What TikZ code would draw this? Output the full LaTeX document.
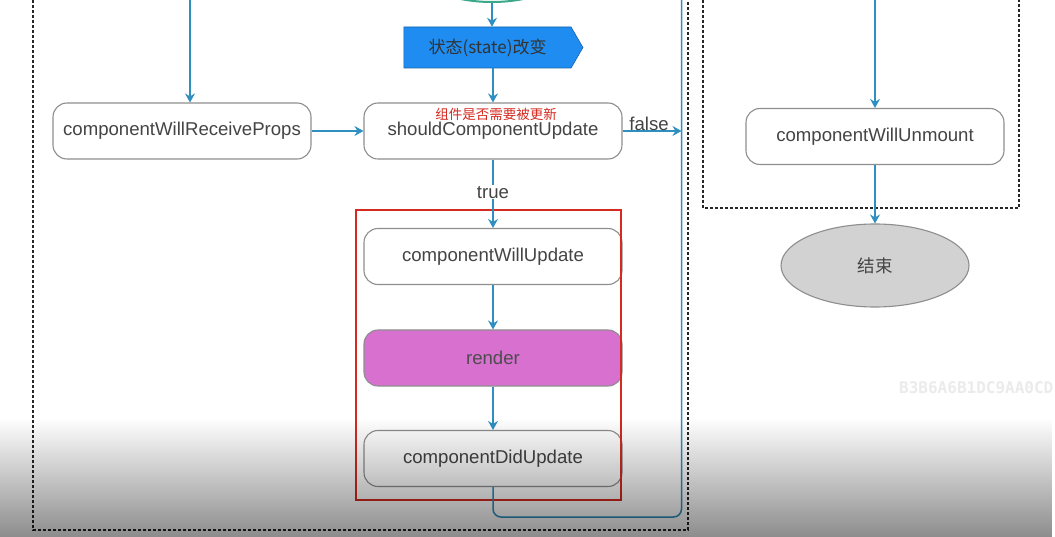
\documentclass[tikz,border=0pt]{standalone}
\usepackage{fontspec}
\setmainfont{Liberation Sans}
\newfontfamily\cjk{Noto Sans CJK SC}
\newfontfamily\wmfont{DejaVu Sans Mono}
\usetikzlibrary{arrows.meta,shapes.geometric,shapes.symbols,fadings}
\tikzfading[name=fadedown, top color=transparent!100, bottom color=transparent!0]
\definecolor{linkblue}{HTML}{2F8FC0}
\definecolor{boxgray}{HTML}{8E8E8E}
\definecolor{txtgray}{HTML}{444444}
\definecolor{statefill}{HTML}{1E8CF0}
\definecolor{renderfill}{HTML}{D870D0}
\definecolor{redline}{HTML}{D42A20}
\definecolor{endfill}{HTML}{D2D2D2}
\definecolor{startgreen}{HTML}{3AA88A}
\tikzset{
  lifebox/.style={draw=boxgray, line width=1.1pt, rounded corners=14pt, fill=white,
    minimum width=258pt, minimum height=56pt, inner sep=0pt, text=txtgray,
    font=\fontsize{18.6}{21}\selectfont},
  conn/.style={draw=linkblue, line width=1.5pt, -{Stealth[length=9pt,width=10pt,inset=3pt]}},
  plainconn/.style={draw=linkblue, line width=1.5pt},
  dashbox/.style={draw=black!85, line width=1.6pt, dash pattern=on 3pt off 2pt},
  lbl/.style={text=txtgray, font=\fontsize{18.6}{21}\selectfont, inner sep=1pt}
}
\begin{document}
\begin{tikzpicture}[x=1pt,y=-1pt]
\useasboundingbox (0,0) rectangle (1055,537);
\fill[white] (0,0) rectangle (1055,537);
\begin{scope}
\clip (0,0) rectangle (1055,537);
% dashed frames
\draw[dashbox] (33,-10) rectangle (688,530);
\draw[dashbox] (703,-10) rectangle (1019,208);
% top start ellipse (cut by the frame)
\node[ellipse, draw=startgreen, line width=2pt, fill=white, minimum width=150pt, minimum height=66pt] (start) at (492,-31) {};
\end{scope}

% state change
\node[signal, signal to=east, signal pointer angle=120, draw=statefill!70!black, line width=0.6pt,
  fill=statefill, minimum width=179pt, minimum height=41pt, inner sep=0pt, text=black!80,
  font=\cjk\fontsize{17}{19}\selectfont] (state) at (487.5,47.5) {状态(state)改变};

% nodes
\node[lifebox] (cwrp) at (182,131) {\raisebox{-1.5pt}{componentWillReceiveProps}};
\node[lifebox] (scu) at (493,131) {\raisebox{-3pt}{shouldComponentUpdate}};
\node[text=redline, font=\cjk\fontsize{13.5}{15}\selectfont, inner sep=0pt] (scuq) at (496,114) {组件是否需要被更新};
\node[lifebox] (cwu) at (493,256.5) {\raisebox{-1.5pt}{componentWillUpdate}};
\node[lifebox, fill=renderfill, text=black!70] (render) at (493,358) {\raisebox{-1.5pt}{render}};
\node[lifebox] (cdu) at (493,458.5) {\raisebox{-1.5pt}{componentDidUpdate}};
\node[lifebox] (cwun) at (875,136.5) {\raisebox{-1.5pt}{componentWillUnmount}};
\node[ellipse, draw=boxgray, line width=1.1pt, fill=endfill, minimum width=188pt, minimum height=83pt,
  inner sep=0pt, text=txtgray, font=\cjk\fontsize{17.5}{19}\selectfont] (end) at (875,265.5) {结束};

% red highlight frame
\draw[redline, line width=1.5pt] (356,210) rectangle (621,500);

% free ends
\coordinate (cwrptop) at (190,0);
\coordinate (cwuntop) at (875,0);
\coordinate (rtop) at (681.5,0);
\coordinate (fend) at (681.5,131);

% connectors
\draw[conn] (start.south) -- (state.north -| start.south);
\draw[conn] (state.south -| scu.north) -- (scu.north);
\draw[conn] (cwrptop) -- (cwrptop |- cwrp.north);
\draw[conn] (cwrp.east) -- (scu.west);
\draw[conn] (scu.east) -- node[lbl, above, pos=0.45, yshift=-1pt] (falselbl) {false} (fend);
\draw[conn] (scu.south) -- node[lbl, fill=white, pos=0.48] (truelbl) {true} (cwu.north);
\draw[conn] (cwu.south) -- (render.north);
\draw[conn] (render.south) -- (cdu.north);
\draw[plainconn, rounded corners=8pt] (cdu.south) -- (493,517) -- (681.5,517) -- (rtop);
\draw[conn] (cwuntop) -- (cwun.north);
\draw[conn] (cwun.south) -- (end.north);

% watermark
\node[text=black!8, font=\wmfont\bfseries\fontsize{16}{17}\selectfont, anchor=west, inner sep=0pt] (wm) at (899,388) {B3B6A6B1DC9AA0CD};

% video overlay gradient at the bottom
\fill[black, fill opacity=0.45, path fading=fadedown] (0,418) rectangle (1055,537);
\end{tikzpicture}
\end{document}
